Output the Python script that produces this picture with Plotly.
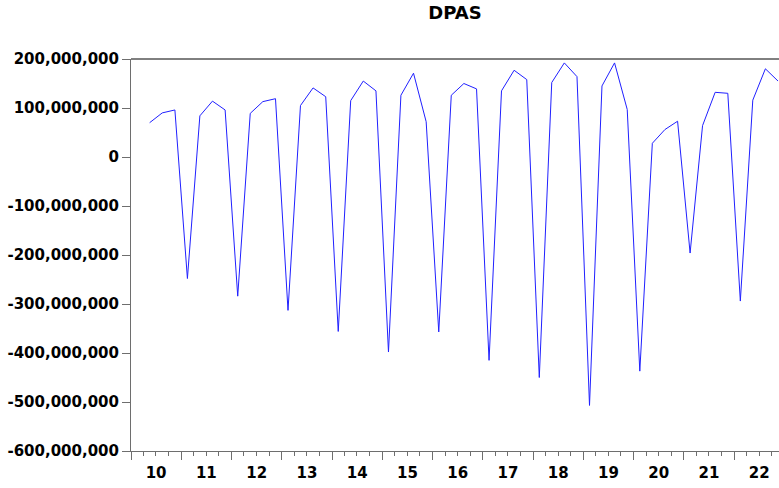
import pandas as pd
import plotly.graph_objects as go

# Quarterly first difference of PAS, 2010Q2 - 2022Q4
quarters = [str(p) for p in pd.period_range("2010Q2", "2022Q4", freq="Q")]
dpas = [
    70e6, 90e6, 96e6,
    -248e6, 84e6, 114e6, 96e6,
    -284e6, 89e6, 113e6, 119e6,
    -313e6, 105e6, 141e6, 123e6,
    -356e6, 115e6, 155e6, 135e6,
    -398e6, 126e6, 171e6, 72e6,
    -357e6, 126e6, 150e6, 139e6,
    -415e6, 135e6, 177e6, 158e6,
    -450e6, 152e6, 192e6, 164e6,
    -507e6, 145e6, 192e6, 97e6,
    -437e6, 28e6, 56e6, 73e6,
    -196e6, 64e6, 132e6, 130e6,
    -294e6, 116e6, 180e6, 155e6,
]

y_tickvals = [200e6, 100e6, 0, -100e6, -200e6, -300e6, -400e6, -500e6, -600e6]
y_ticktext = ["200,000,000", "100,000,000", "0", "-100,000,000", "-200,000,000",
              "-300,000,000", "-400,000,000", "-500,000,000", "-600,000,000"]

# each observation sits at the middle of its quarter
periods = pd.PeriodIndex(quarters, freq="Q")
x_dates = [p.start_time + (p.end_time - p.start_time) / 2 for p in periods]

FONT = "DejaVu Sans"
AXIS_GRAY = "#6e6e6e"

fig = go.Figure()
fig.add_trace(go.Scatter(
    x=x_dates, y=dpas, mode="lines",
    line=dict(color="#2020ff", width=1),
    hoverinfo="x+y", showlegend=False,
))

fig.update_layout(
    width=779, height=488,
    margin=dict(l=131, r=0, t=59, b=37),
    paper_bgcolor="white", plot_bgcolor="white",
    title=dict(text="DPAS", x=0.5, xref="paper", xanchor="center",
               y=1 - 13 / 488, yref="container", yanchor="middle",
               font=dict(family=FONT, size=18, color="black", weight="bold")),
    xaxis=dict(
        type="date",
        range=["2010-01-01", "2022-11-23"],
        tick0="2010-01-01", dtick="M12", tickformat="%y",
        ticklabelmode="period",
        ticks="outside", ticklen=8, tickwidth=1, tickcolor=AXIS_GRAY,
        minor=dict(dtick="M3", ticks="outside", ticklen=4, tickwidth=1,
                   tickcolor=AXIS_GRAY, showgrid=False),
        showline=True, linecolor=AXIS_GRAY, linewidth=1,
        showgrid=False, zeroline=False,
        tickfont=dict(family=FONT, size=15, color="black", weight="bold"),
    ),
    yaxis=dict(
        range=[-600e6, 200e6],
        tickvals=y_tickvals, ticktext=y_ticktext,
        ticks="outside", ticklen=8, tickwidth=1, tickcolor=AXIS_GRAY,
        showline=True, linecolor=AXIS_GRAY, linewidth=1,
        showgrid=False, zeroline=False,
        tickfont=dict(family=FONT, size=15, color="black", weight="bold"),
    ),
    shapes=[dict(type="line", xref="paper", yref="paper",
                 x0=0, x1=1, y0=1, y1=1,
                 line=dict(color="black", width=1))],
)

fig.write_html("out.html")
